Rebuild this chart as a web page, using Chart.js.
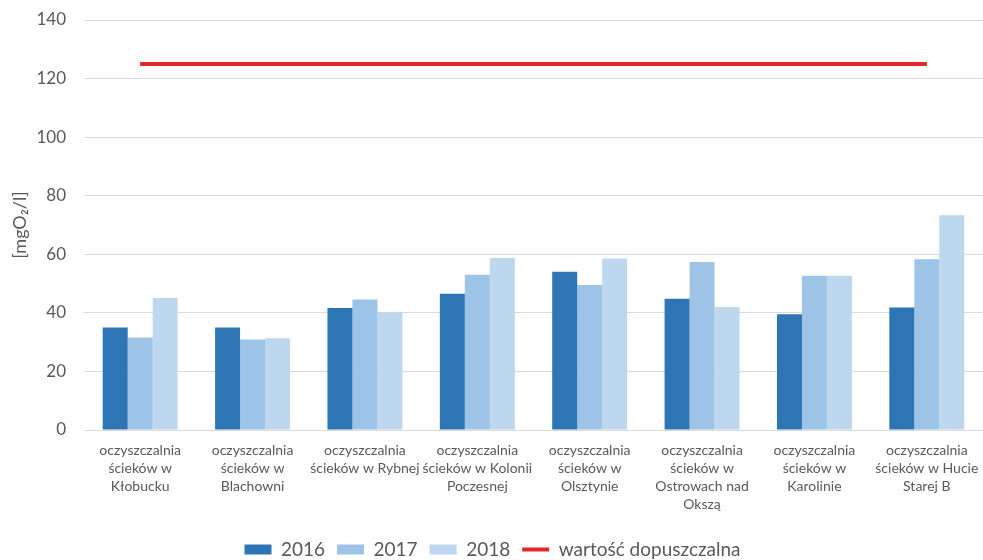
<!DOCTYPE html>
<html>
<head>
<meta charset="utf-8">
<script src="https://cdn.jsdelivr.net/npm/chart.js@4/dist/chart.umd.min.js"></script>
<style>
    html, body { margin: 0; padding: 0; background: #fff; }
    #wrap { width: 983px; height: 560px; }
</style>
</head>
<body>
<div id="wrap"><canvas id="chart" width="983" height="560"></canvas></div>
<script>
// ── Data ─────────────────────────────────────────────────────────────────────

const plants = [
    ['oczyszczalnia', 'ścieków w', 'Kłobucku'],
    ['oczyszczalnia', 'ścieków w', 'Blachowni'],
    ['oczyszczalnia', 'ścieków w Rybnej'],
    ['oczyszczalnia', 'ścieków w Kolonii', 'Poczesnej'],
    ['oczyszczalnia', 'ścieków w', 'Olsztynie'],
    ['oczyszczalnia', 'ścieków w', 'Ostrowach nad', 'Okszą'],
    ['oczyszczalnia', 'ścieków w', 'Karolinie'],
    ['oczyszczalnia', 'ścieków w Hucie', 'Starej B']
];

const values2016 = [35.0, 35.0, 41.7, 46.5, 54.0, 44.8, 39.5, 41.8];
const values2017 = [31.6, 30.9, 44.6, 53.0, 49.5, 57.4, 52.7, 58.3];
const values2018 = [45.1, 31.3, 40.0, 58.7, 58.6, 42.0, 52.7, 73.3];
const limitValues = [125, 125, 125, 125, 125, 125, 125, 125];

const yTicks = [0, 20, 40, 60, 80, 100, 120, 140];

// ── Chart ────────────────────────────────────────────────────────────────────

const FONT = 'Lato, "Open Sans", sans-serif';
const TEXT = '#595959';

const ctx = document.getElementById('chart').getContext('2d');
new Chart(ctx, {
    data: {
        labels: plants,
        datasets: [
            { type: 'bar', label: '2016', data: values2016, backgroundColor: '#2e75b6' },
            { type: 'bar', label: '2017', data: values2017, backgroundColor: '#9dc3e6' },
            { type: 'bar', label: '2018', data: values2018, backgroundColor: '#bdd7ee' },
            {
                type: 'line',
                label: 'wartość dopuszczalna',
                data: limitValues,
                borderColor: '#e3262b',
                backgroundColor: '#e3262b',
                borderWidth: 4,
                pointRadius: 0,
                fill: false
            }
        ]
    },
    options: {
        responsive: false,
        animation: false,
        layout: { padding: { top: 20, right: -2, left: 0, bottom: -9 } },
        datasets: {
            bar: { barPercentage: 1, categoryPercentage: 0.667, borderWidth: 0 }
        },
        scales: {
            x: {
                grid: { display: false, drawTicks: false },
                border: { color: '#d9d9d9' },
                afterFit: axis => {
                    // fixed axis height so plot bottom sits where the reference has it
                    axis.height = 98;
                    axis.paddingLeft = 0;
                    axis.paddingRight = 0;
                },
                ticks: {
                    color: TEXT,
                    font: { family: FONT, size: 14, lineHeight: 1.3 },
                    maxRotation: 0,
                    autoSkip: false,
                    padding: 11
                }
            },
            y: {
                min: yTicks[0],
                max: yTicks[yTicks.length - 1],
                afterBuildTicks: axis => { axis.ticks = yTicks.map(v => ({ value: v })); },
                afterFit: axis => {
                    axis.width = 84;
                    axis.paddingTop = 0;
                    axis.paddingBottom = 0;
                },
                grid: { color: '#d9d9d9', drawTicks: false },
                border: { display: false },
                ticks: {
                    color: TEXT,
                    font: { family: FONT, size: 17 },
                    padding: 18
                },
                title: {
                    display: true,
                    text: '[mgO₂/l]',
                    color: TEXT,
                    font: { family: FONT, size: 18 },
                    padding: { top: 9, bottom: 4 }
                }
            }
        },
        plugins: {
            tooltip: { enabled: false },
            legend: {
                position: 'bottom',
                labels: {
                    color: TEXT,
                    font: { family: FONT, size: 19 },
                    usePointStyle: true,
                    pointStyleWidth: 27,
                    boxWidth: 27,
                    boxHeight: 10,
                    padding: 12,
                    generateLabels: chart => chart.data.datasets.map((ds, i) => ({
                        text: ds.label,
                        fillStyle: ds.backgroundColor,
                        strokeStyle: ds.type === 'line' ? ds.borderColor : ds.backgroundColor,
                        lineWidth: ds.type === 'line' ? 4 : 0,
                        pointStyle: ds.type === 'line' ? 'line' : 'rect',
                        fontColor: TEXT,
                        hidden: false,
                        datasetIndex: i
                    }))
                }
            }
        }
    }
});
</script>
</body>
</html>
